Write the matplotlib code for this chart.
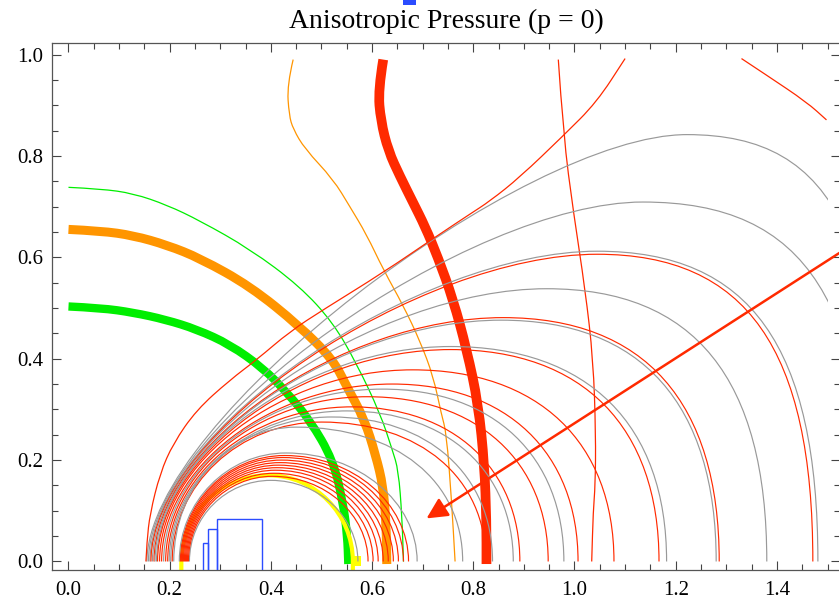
import numpy as np
import matplotlib
matplotlib.use("Agg")
import matplotlib.pyplot as plt
from matplotlib.path import Path
from matplotlib.patches import PathPatch, Rectangle, FancyArrowPatch
from matplotlib import ticker

plt.rcParams['font.family'] = ['Liberation Serif', 'DejaVu Serif']

RED = '#ff2a00'
GRAY = '#999999'
ORANGE = '#ff9500'
GREEN = '#00ee00'
YELLOW = '#ffff00'
BLUE = '#2b4cff'

# big family of contours: colour, left foot, peak x, peak height, right foot
big_col = ['g', 'g', 'g', 'r', 'g', 'r', 'g', 'g', 'r', 'r', 'r', 'g', 'r', 'r', 'g', 'g', 'r', 'g']
big_xl = [0.155, 0.158, 0.161, 0.163, 0.166, 0.169, 0.171, 0.174, 0.176, 0.180, 0.184, 0.188, 0.192, 0.196, 0.199, 0.202, 0.205, 0.208]
big_xp = [1.222, 1.135, 1.045, 1.045, 0.945, 0.859, 0.855, 0.755, 0.755, 0.680, 0.640, 0.620, 0.590, 0.560, 0.550, 0.520, 0.500, 0.450]
big_h = [0.842, 0.709, 0.612, 0.606, 0.538, 0.481, 0.476, 0.424, 0.418, 0.378, 0.350, 0.340, 0.325, 0.305, 0.297, 0.285, 0.275, 0.265]
big_xr = [1.620, 1.585, 1.481, 1.471, 1.380, 1.286, 1.280, 1.182, 1.167, 1.078, 1.007, 0.979, 0.948, 0.892, 0.879, 0.838, 0.825, 0.779]

# small inner family
small_col = ['g', 'r', 'r', 'r', 'r', 'r', 'r', 'r', 'r', 'r', 'g']
small_xl = [0.239, 0.237, 0.235, 0.233, 0.231, 0.229, 0.227, 0.225, 0.223, 0.221, 0.219]
small_xp = [0.400, 0.403, 0.406, 0.409, 0.412, 0.415, 0.418, 0.421, 0.424, 0.427, 0.430]
small_h = [0.160, 0.168, 0.174, 0.180, 0.185, 0.190, 0.195, 0.200, 0.205, 0.209, 0.214]
small_xr = [0.572, 0.592, 0.602, 0.612, 0.622, 0.632, 0.642, 0.652, 0.662, 0.672, 0.689]

# outermost (jagged) red contour, two pieces below y = 1
outer_a_x = [0.153, 0.155, 0.161, 0.181, 0.207, 0.253, 0.319, 0.372, 0.438, 0.504, 0.622, 0.728, 0.793, 0.833, 0.892, 0.978, 1.044, 1.100]
outer_a_y = [0.000, 0.040, 0.094, 0.174, 0.233, 0.299, 0.358, 0.398, 0.454, 0.497, 0.570, 0.642, 0.685, 0.711, 0.758, 0.840, 0.906, 0.992]
outer_b_x = [1.330, 1.380, 1.459, 1.498]
outer_b_y = [0.992, 0.959, 0.906, 0.871]

# thick curves
green_x = [0.0, 0.064, 0.128, 0.192, 0.253, 0.319, 0.385, 0.431, 0.477, 0.523, 0.543, 0.551, 0.553]
green_y = [0.503, 0.500, 0.491, 0.477, 0.458, 0.428, 0.381, 0.334, 0.279, 0.200, 0.114, 0.050, -0.005]
orange_x = [0.0, 0.064, 0.128, 0.195, 0.260, 0.359, 0.457, 0.523, 0.550, 0.585, 0.607, 0.622, 0.628, 0.629]
orange_y = [0.655, 0.652, 0.643, 0.624, 0.598, 0.543, 0.464, 0.398, 0.345, 0.280, 0.210, 0.148, 0.070, -0.005]
red_x = [0.622, 0.612, 0.617, 0.632, 0.655, 0.680, 0.705, 0.730, 0.760, 0.787, 0.810, 0.822, 0.826, 0.826]
red_y = [0.990, 0.930, 0.870, 0.810, 0.760, 0.710, 0.660, 0.600, 0.517, 0.418, 0.310, 0.190, 0.080, -0.005]

# thin curves
tgreen_x = [0.0, 0.064, 0.128, 0.195, 0.260, 0.359, 0.457, 0.523, 0.569, 0.616, 0.640, 0.652, 0.659, 0.662]
tgreen_y = [0.738, 0.735, 0.726, 0.703, 0.672, 0.616, 0.543, 0.471, 0.391, 0.292, 0.220, 0.180, 0.090, 0.000]
torange_x = [0.444, 0.432, 0.436, 0.444, 0.467, 0.523, 0.556, 0.589, 0.622, 0.662, 0.695, 0.721, 0.737, 0.747, 0.757, 0.764]
torange_y = [0.990, 0.940, 0.880, 0.853, 0.814, 0.754, 0.700, 0.645, 0.576, 0.504, 0.434, 0.365, 0.290, 0.253, 0.121, 0.000]
tred_x = [0.968, 0.978, 0.998, 1.021, 1.037, 1.042, 1.041, 1.037, 1.034]
tred_y = [0.990, 0.840, 0.688, 0.537, 0.398, 0.250, 0.150, 0.100, 0.000]

# yellow contour: left foot, peak x, height, right foot
yel = [0.223, 0.395, 0.170, 0.562]

# blue step bars
bar_edges = [0.265, 0.276, 0.293, 0.382]
bar_heights = [0.037, 0.065, 0.083]

# arrow from outside the frame to the tip
arrow_start = (1.56, 0.632)
arrow_end = (0.703, 0.082)


def contour_path(xl, xp, h, xr, a, b, k, tail=0.0):
    verts = [(xl, 0), (xl, a * h), (xp - b * (xp - xl), h), (xp, h),
             (xp + k * (xr - xp), h), (xr, k * h), (xr, 0)]
    codes = [Path.MOVETO] + [Path.CURVE4] * 6
    if tail:
        verts = [(xl, -tail)] + verts + [(xr, -tail)]
        codes = [Path.MOVETO, Path.LINETO] + [Path.CURVE4] * 6 + [Path.LINETO]
    return Path(verts, codes)


def smooth_path(xs, ys):
    # quadratic b-spline through the read points (points act as control points)
    pts = list(zip(xs, ys))
    verts = [pts[0]]
    codes = [Path.MOVETO]
    for i in range(1, len(pts) - 1):
        mid = ((pts[i][0] + pts[i + 1][0]) / 2, (pts[i][1] + pts[i + 1][1]) / 2)
        verts += [pts[i], mid]
        codes += [Path.CURVE3, Path.CURVE3]
    verts.append(pts[-1])
    codes.append(Path.LINETO)
    return Path(verts, codes)


def add_curve(ax, xs, ys, color, lw, z):
    p = PathPatch(smooth_path(xs, ys), fill=False, edgecolor=color, lw=lw,
                  capstyle='butt', joinstyle='round', zorder=z)
    ax.add_patch(p)
    return p


fig = plt.figure(figsize=(8.39, 6.05), dpi=100)
ax = fig.add_axes([52 / 839, 35 / 605, 788 / 839, 527 / 605])
ax.set_xlim(-0.0326, 1.5247)
ax.set_ylim(-0.0168, 1.0227)

region = Rectangle((-0.1, -0.1), 1.6, 1.1, transform=ax.transData)

add_curve(ax, green_x, green_y, GREEN, 6, 2)
add_curve(ax, orange_x, orange_y, ORANGE, 6.5, 2)
add_curve(ax, red_x, red_y, RED, 7, 2)

yp = PathPatch(contour_path(yel[0], yel[1], yel[2], yel[3], 0.55, 0.55, 0.55, tail=0.04),
               fill=False, edgecolor=YELLOW, lw=3, zorder=2.5)
ax.add_patch(yp)
ax.add_patch(Rectangle((0.561, -0.008), 0.018, 0.018, color=YELLOW, lw=0, zorder=2.5))

add_curve(ax, tgreen_x, tgreen_y, GREEN, 0.9, 3)
add_curve(ax, torange_x, torange_y, ORANGE, 0.9, 3)
add_curve(ax, tred_x, tred_y, RED, 0.9, 3)

for c, xl, xp, h, xr in zip(big_col, big_xl, big_xp, big_h, big_xr):
    a = np.clip(0.55 - 0.4 * (h - 0.3), 0.33, 0.55)
    b = np.clip(0.55 - 0.5 * (h - 0.3), 0.30, 0.55)
    k = np.clip(0.6 + 0.3 * (h - 0.3), 0.6, 0.75)
    p = PathPatch(contour_path(xl, xp, h, xr, a, b, k), fill=False,
                  edgecolor=RED if c == 'r' else GRAY, lw=0.85, zorder=3)
    ax.add_patch(p)
    p.set_clip_path(region)

for c, xl, xp, h, xr in zip(small_col, small_xl, small_xp, small_h, small_xr):
    p = PathPatch(contour_path(xl, xp, h, xr, 0.55, 0.55, 0.55), fill=False,
                  edgecolor=RED if c == 'r' else GRAY, lw=0.85, zorder=3)
    ax.add_patch(p)

add_curve(ax, outer_a_x, outer_a_y, RED, 0.9, 3)
add_curve(ax, outer_b_x, outer_b_y, RED, 0.9, 3)

ax.bar(bar_edges[:-1], [hh + 0.05 for hh in bar_heights], width=np.diff(bar_edges),
       bottom=-0.05, align='edge', fill=False, edgecolor=BLUE, lw=1.0, zorder=4)

ax.add_patch(FancyArrowPatch(arrow_start, arrow_end,
                             arrowstyle='-|>,head_length=0.9,head_width=0.45',
                             mutation_scale=14, color=RED, lw=1.8, zorder=5))

# small blue mark above the frame
fig.patches.append(Rectangle((403 / 839, 1 - 5 / 605), 13 / 839, 5 / 605,
                             transform=fig.transFigure, color=BLUE, lw=0))

ax.set_title('Anisotropic Pressure (p = 0)', fontsize=20, pad=11)

ax.xaxis.set_major_locator(ticker.MultipleLocator(0.2))
ax.yaxis.set_major_locator(ticker.MultipleLocator(0.2))
ax.xaxis.set_minor_locator(ticker.MultipleLocator(0.05))
ax.yaxis.set_minor_locator(ticker.MultipleLocator(0.05))
ax.xaxis.set_major_formatter(ticker.FormatStrFormatter('%.1f'))
ax.yaxis.set_major_formatter(ticker.FormatStrFormatter('%.1f'))
ax.tick_params(which='both', direction='in', top=True, right=True, color='#444444', width=0.8)
ax.tick_params(which='major', length=6.5, labelsize=15)
ax.tick_params(which='minor', length=4)
ax.tick_params(axis='x', pad=8)
ax.tick_params(axis='y', pad=6.5)
for s in ax.spines.values():
    s.set_color('#555555')
    s.set_linewidth(0.9)

fig.savefig('out.png', dpi=100)
